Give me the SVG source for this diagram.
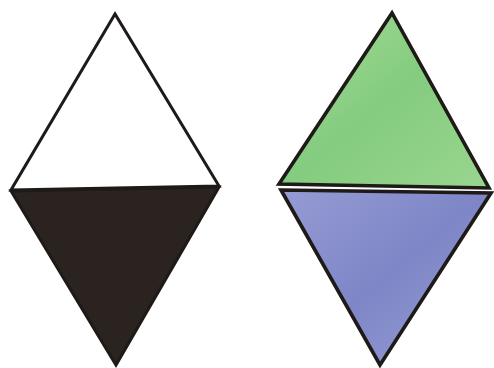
<svg xmlns="http://www.w3.org/2000/svg" width="494" height="368" viewBox="0 0 494 368">
  <style>
    .edge { stroke: #1e1a18; stroke-width: 3; stroke-linejoin: miter; }
    .bold { stroke-width: 3.6; }
  </style>
  <defs>
    <linearGradient id="green" x1="0" y1="0" x2="1" y2="1">
      <stop offset="0" stop-color="#a6dc98"/>
      <stop offset="0.5" stop-color="#84cc7f"/>
      <stop offset="1" stop-color="#9ad58f"/>
    </linearGradient>
    <linearGradient id="blue" x1="0" y1="0" x2="1" y2="1">
      <stop offset="0" stop-color="#959bd3"/>
      <stop offset="0.5" stop-color="#7e86c7"/>
      <stop offset="1" stop-color="#989ed4"/>
    </linearGradient>
  </defs>
  <rect width="494" height="368" fill="#ffffff"/>
  <g id="left-top">
    <polygon class="edge" points="115,14 11,190 219,186" fill="#ffffff"/>
  </g>
  <g id="left-bottom">
    <polygon class="edge" points="11,191 219,187 116,365" fill="#2b2320"/>
  </g>
  <g id="right-top">
    <polygon class="edge bold" points="392,13 279,184 489,188" fill="url(#green)"/>
  </g>
  <g id="right-bottom">
    <polygon class="edge bold" points="281,190 491,193 380,365" fill="url(#blue)"/>
  </g>
</svg>
